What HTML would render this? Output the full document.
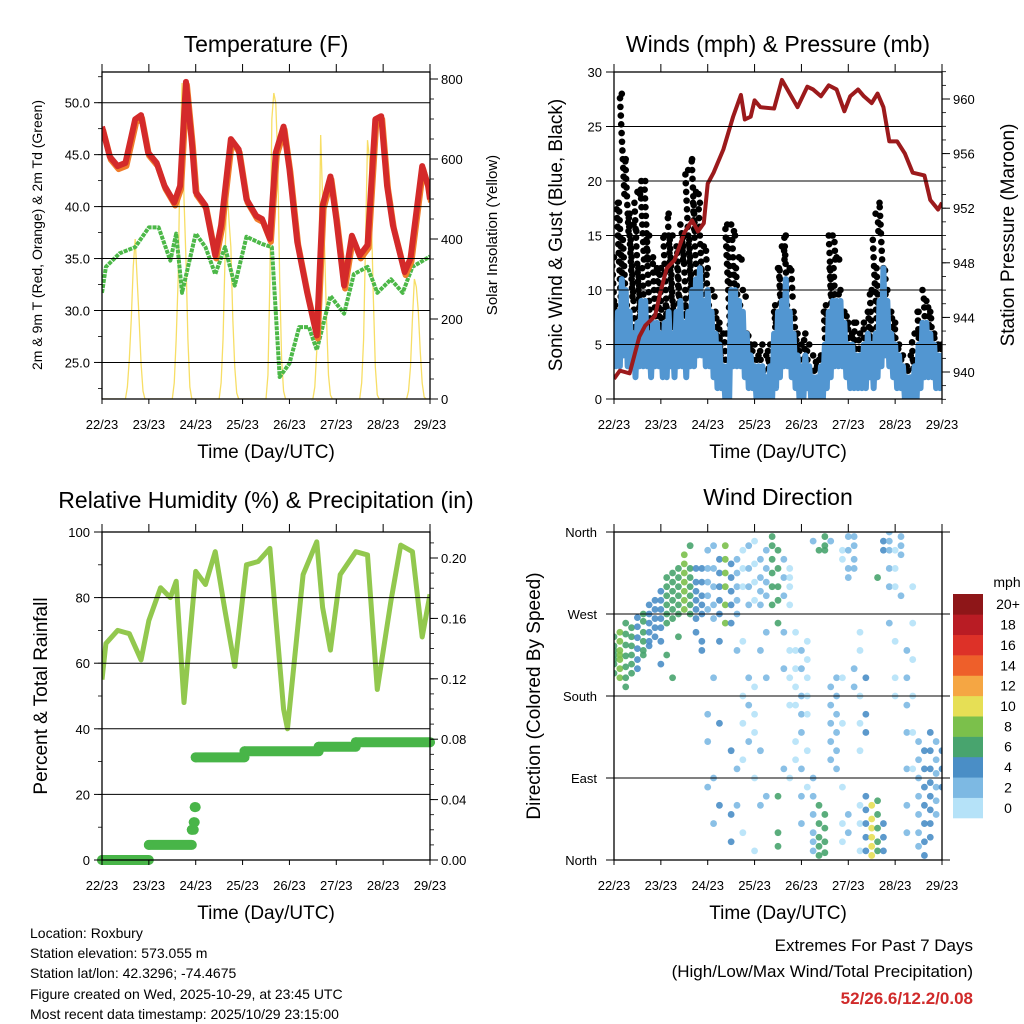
<!DOCTYPE html>
<html><head><meta charset="utf-8">
<style>
html,body{margin:0;padding:0;background:#fff;}
svg{display:block;font-family:"Liberation Sans",sans-serif;}
</style></head>
<body>
<svg id="chart" width="1024" height="1024" viewBox="0 0 1024 1024" xmlns="http://www.w3.org/2000/svg">
<rect x="0" y="0" width="1024" height="1024" fill="#fff"/>
<g id="layer-fill"></g>
<g id="layer-axes"></g>

<text x="266" y="52" font-size="23" text-anchor="middle">Temperature (F)</text>
<text x="778" y="52" font-size="23" text-anchor="middle">Winds (mph) &amp; Pressure (mb)</text>
<text x="266" y="508" font-size="23" text-anchor="middle">Relative Humidity (%) &amp; Precipitation (in)</text>
<text x="778" y="505" font-size="23" text-anchor="middle">Wind Direction</text>

<text transform="translate(42,235) rotate(-90)" font-size="14" text-anchor="middle">2m &amp; 9m T (Red, Orange) &amp; 2m Td (Green)</text>
<text transform="translate(497,235) rotate(-90)" font-size="15" text-anchor="middle">Solar Insolation (Yellow)</text>
<text transform="translate(562,235) rotate(-90)" font-size="19" text-anchor="middle">Sonic Wind &amp; Gust (Blue, Black)</text>
<text transform="translate(1014,235) rotate(-90)" font-size="19" text-anchor="middle">Station Pressure (Maroon)</text>
<text transform="translate(47,696) rotate(-90)" font-size="19" text-anchor="middle">Percent &amp; Total Rainfall</text>
<text transform="translate(540,696) rotate(-90)" font-size="19" text-anchor="middle">Direction (Colored By Speed)</text>

<text x="266" y="458" font-size="19" text-anchor="middle">Time (Day/UTC)</text>
<text x="778" y="458" font-size="19" text-anchor="middle">Time (Day/UTC)</text>
<text x="266" y="919" font-size="19" text-anchor="middle">Time (Day/UTC)</text>
<text x="778" y="919" font-size="19" text-anchor="middle">Time (Day/UTC)</text>

<g font-size="14">
<text x="30" y="938">Location: Roxbury</text>
<text x="30" y="958">Station elevation: 573.055 m</text>
<text x="30" y="978">Station lat/lon: 42.3296; -74.4675</text>
<text x="30" y="999">Figure created on Wed, 2025-10-29, at 23:45 UTC</text>
<text x="30" y="1019">Most recent data timestamp: 2025/10/29 23:15:00</text>
</g>
<g font-size="17" text-anchor="end">
<text x="973" y="951">Extremes For Past 7 Days</text>
<text x="973" y="977">(High/Low/Max Wind/Total Precipitation)</text>
<text x="973" y="1004" fill="#d02a2a" font-weight="bold">52/26.6/12.2/0.08</text>
</g>
<text x="1007" y="587" font-size="14" text-anchor="middle">mph</text>
</svg>
<script>
const NS="http://www.w3.org/2000/svg";
// ---------- DATA ----------
const dayLabels=["22/23","23/23","24/23","25/23","26/23","27/23","28/23","29/23"];
const tempTimes=[0,4,8,12,17,20,23.6,28,32,37,40,43,46,48,53,58,61,66,70,74,79,82,86,89,93,96,100,105,110,113,117,120,124,128,132,136,140,143,146,149,155,158,164,167,168];
const tempVals=[47.7,44.8,43.9,44.2,48.4,48.8,45.2,44.2,42.0,40.4,42.0,52.0,46.2,41.4,40.1,35.3,38.2,46.5,45.5,40.7,39.1,38.8,36.9,45.2,47.7,43.6,36.6,31.8,27.6,40.1,42.9,38.8,32.4,37.2,35.3,36.3,48.4,48.7,42.0,38.2,33.7,35.0,43.9,42.0,40.7];
const dewTimes=[0,2,9,17,24,29,35,38,41,48,53,58,63,68,74,82,87,91,96,101,106,110,117,124,129,136,141,148,154,159,168];
const dewVals=[31.7,34.2,35.5,36.1,38.0,38.0,34.8,37.4,31.7,37.4,36.1,33.5,36.1,32.4,37.1,36.4,36.1,23.6,24.9,28.4,28.4,26.2,31.4,29.7,33.5,34.2,31.7,33.0,31.7,34.2,35.2];
const solarVals=[
0,0,0,0,0,0,0,0,0,0,0,0,0,30,100,200,330,400,300,200,90,20,0,0,
0,0,0,0,0,0,0,0,0,0,0,0,0,40,150,300,600,790,500,350,150,30,0,0,
0,0,0,0,0,0,0,0,0,0,0,0,0,40,150,350,530,450,380,200,80,15,0,0,
0,0,0,0,0,0,0,0,0,0,0,0,0,60,300,700,765,740,600,300,100,20,0,0,
0,0,0,0,0,0,0,0,0,0,0,0,0,30,120,300,660,500,380,200,60,10,0,0,
0,0,0,0,0,0,0,0,0,0,0,0,0,40,150,400,647,600,450,250,80,10,0,0,
0,0,0,0,0,0,0,0,0,0,0,0,0,20,80,200,300,280,220,120,40,5,0,0,0];
const windMax=[6,8,11,10,8,6,7,9,9,6,7,7, 6,7,8,6,8,9,7,8,10,11,12,9, 10,8,6,5,3,3,10,10,9,8,6,4, 3,3,3,2,3,6,8,9,11,8,6,4, 3,4,3,2,2,3,5,8,9,9,9,7, 5,5,4,4,5,6,5,6,9,12,9,6, 5,4,3,2,2,3,5,7,7,6,5,4,4];
const windMin=[3,3,4,3,3,2,3,3,3,2,3,3, 2,2,3,2,3,3,2,3,3,4,4,3, 3,2,1,1,0,0,3,3,3,2,1,1, 0,0,0,0,0,1,2,3,3,2,1,0, 0,1,0,0,0,0,1,2,3,3,3,2, 1,1,1,1,1,2,1,2,3,4,3,2, 1,1,0,0,0,0,1,2,2,2,1,1,1];
const gustVals=[13,18,28,22,17,16,19,20,20,15,13,12, 12,15,17,15,14,16,15,21,22,19,18,14, 12,10,8,7,6,16,16,15,13,10,6,5, 5,4,5,4,5,8,12,14,15,12,8,6, 5,6,5,4,3,4,8,15,15,13,10,8, 7,6,7,6,7,8,10,17,18,12,10,8, 7,5,4,3,4,6,8,10,9,8,6,5,5];
const presTimes=[0,3,8,13,16,21,23.7,27,31,36,40,43,46,48,51,56,61,65,67,70,72,75,82,86,90,94,99,102,106,110,114,118,121,125,128,132,135,138,141,145,149,153,159,162,166,168];
const presVals=[939.5,940.1,939.9,942.6,943.4,944.1,945.8,947.6,948.2,950.2,951.1,950.3,950.9,953.8,954.6,956.3,958.7,960.3,958.5,958.7,959.9,959.4,959.3,961.4,960.4,959.4,960.9,960.7,960.2,961.0,960.7,959.1,960.2,960.7,960.2,959.7,960.4,959.4,956.9,956.9,956.0,954.6,954.4,952.6,951.9,952.4];
const rhTimes=[0,2,8,14,20,24,30,35,38,42,48,53,58,63,68,74,80,86,93,95,103,110,113,117,122,130,136,141,148,153,159,164,168];
const rhVals=[55,66,70,69,61,73,83,80,85,48,88,84,94,76,59,90,91,95,46,40,87,97,77,64,87,94,93,52,79,96,94,68,81];
const rainTimes=[0,24,46,47,47.5,48,73,111,130,168];
const rainVals=[0,0.01,0.02,0.025,0.035,0.068,0.072,0.075,0.078,0.078];
const dirTimes=[0,3,6,9,12,15,18,21,24,27,30,33,36,39,42,45,48,51,54,57,60,63,66,69,72,75,78,81,84,87,90,93,96,99,102,105,108,111,114,117,120,123,126,129,132,135,138,141,144,147,150,153,156,159,162,165,168];
const dirSpeeds=[7,9,7,6,5,6,5,4,5,6,7,6,8,6,5,4,3,2,4,8,4,3,1,2,1,3,2,6,6,3,1,1,2,1,2,6,7,3,2,1,3,2,1,4,10,6,4,2,1,3,2,1,3,4,4,3,4];
const dirDegs=[[205,215,225,235,245,220,230],[210,220,230,240,250,225,200],[200,212,224,236,248,260,190],[215,225,235,245,255,205],[220,232,244,256,266,210],[230,240,250,262,270,225],[240,250,260,270,280,235],[245,255,265,275,285],[255,265,275,285,295,240,215],[260,270,280,290,300,310,225],[265,275,285,295,305,315,200],[270,280,290,300,310,320,245],[275,285,295,305,315,325,335],[270,280,290,300,310,320,345],[265,275,285,295,305,320,250],[270,280,290,305,320,240,230],[275,290,305,320,340,160,130,80],[265,280,300,320,345,200,90,40],[270,285,300,315,330,240,150,60],[300,315,330,345,280,260],[280,295,310,325,260,120,50,20],[270,285,300,315,330,230,100,60],[300,320,340,240,180,150,110,30],[280,300,320,345,200,170,130],[285,305,325,350,190,160,140,90,10],[280,295,310,330,230,120,60],[290,305,320,340,250,200,70],[300,315,330,345,355,280],[285,300,320,340,260,70,30,15],[290,310,330,250,210,100],[280,300,310,320,230,200,170,90],[250,230,210,190,170,130,110],[230,210,180,160,140,100,70,40],[240,220,200,180,160,120,80],[90,70,50,30,20,10,350],[60,40,25,15,5,340],[50,35,20,8,355,345,340],[190,170,150,130,110,350],[200,180,160,140,120,100],[200,150,80,40,20,340,330],[310,320,340,355,50,30],[320,330,345,355,210,190],[250,230,180,150,120,60,40,10],[70,55,40,25,10,200,160,140],[60,45,35,25,15,5],[65,50,35,20,10,310],[40,25,10,350,340],[360,350,340,320,300,260],[340,320,300,240,200,180],[355,345,335,290],[230,200,170,140,100,60,30],[300,260,220,180,140,100],[130,110,90,70,50,30,15],[120,100,80,60,40,20,5],[140,120,100,85,70,55,40,25],[130,110,95,80,65,50],[120,100,80]];
const speedBins=["0","2","4","6","8","10","12","14","16","18","20+"];
const binColors=["#b5e2f8","#7db9e3","#4a8ec6","#48a46e","#7bc04b","#e6df55","#f5a643","#ee5f2a","#dd3128","#b91c24","#8e1618"];
const tempTicks=[25,30,35,40,45,50];
const solarTicks=[0,200,400,600,800];
const windTicks=[0,5,10,15,20,25,30];
const presTicks=[940,944,948,952,956,960];
const rhTicks=[0,20,40,60,80,100];
const rainTicks=[0,0.04,0.08,0.12,0.16,0.20];
const dirTicks=[0,90,180,270,360];
const dirTickLabels=["North","East","South","West","North"];

// ---------- SCALES ----------
const P1={x0:102,x1:430,y0:72,y1:399}, P2={x0:614,x1:942,y0:72,y1:399}, P3={x0:102,x1:430,y0:532,y1:860}, P4={x0:614,x1:942,y0:532,y1:860};
const xs=(P,h)=>P.x0+h/168*(P.x1-P.x0);
const yTemp=T=>102.7+(50-T)*10.39;
const ySolar=s=>399-s*0.4;
const yWind=v=>399-v*10.9;
const yPres=p=>99+(960-p)*13.65;
const yRH=r=>860-r*3.28;
const yRain=r=>860-r*1510;
const yDir=d=>860-d*328/360;

const fillL=document.getElementById('layer-fill');
const axL=document.getElementById('layer-axes');
function mk(tag,attrs,parent){const e=document.createElementNS(NS,tag);for(const k in attrs)e.setAttribute(k,attrs[k]);parent.appendChild(e);return e;}
function clip(id,P){const d=mk('clipPath',{id:id},fillL);mk('rect',{x:P.x0,y:P.y0,width:P.x1-P.x0,height:P.y1-P.y0},d);}
clip('c1',P1);clip('c2',P2);clip('c3',P3);clip('c4',P4);
const g1=mk('g',{'clip-path':'url(#c1)'},fillL);


const g2=mk('g',{'clip-path':'url(#c2)'},fillL);


const g3=mk('g',{'clip-path':'url(#c3)'},fillL);


const g4=mk('g',{'clip-path':'url(#c4)'},fillL);



function grid(P,vals,yf,g,name,ext){for(const v of vals){const l=mk('line',{x1:P.x0-(ext||0),x2:P.x1+(ext||0),y1:yf(v),y2:yf(v),stroke:'#000','stroke-width':1},axL);

}}
grid(P1,tempTicks,yTemp,g1,'temperature-gridline',0);
grid(P2,windTicks,yWind,g2,'wind-gridline',0);
grid(P3,rhTicks,yRH,g3,'humidity-gridline',0);
grid(P4,dirTicks,yDir,g4,'direction-gridline',8);

// ---- Panel 1 ----
let pts=solarVals.map((s,i)=>xs(P1,i)+','+ySolar(s)).join(' ');
const sol=mk('polyline',{points:pts,fill:'none',stroke:'#f6d84a','stroke-width':1.3,opacity:0.85},g1);


pts=dewVals.map((v,i)=>xs(P1,dewTimes[i])+','+yTemp(v)).join(' ');
const dew=mk('polyline',{points:pts,fill:'none',stroke:'#4cb848','stroke-width':4,'stroke-dasharray':'4 1','stroke-linejoin':'round'},g1);


pts=tempVals.map((v,i)=>xs(P1,tempTimes[i])+1+','+(yTemp(v)+3)).join(' ');
const t9=mk('polyline',{points:pts,fill:'none',stroke:'#f07c2a','stroke-width':6,'stroke-linejoin':'round'},g1);


pts=tempVals.map((v,i)=>xs(P1,tempTimes[i])+','+yTemp(v)).join(' ');
const t2=mk('polyline',{points:pts,fill:'none',stroke:'#d42a2a','stroke-width':6,'stroke-linejoin':'round'},g1);



// ---- Panel 2 ----
for(let i=0;i<gustVals.length;i++){
  const h=i*2;
  for(let v=windMax[i]-1;v<=gustVals[i];v+=0.8){
    const c=mk('circle',{cx:xs(P2,h)+((v*7)%6)-3,cy:yWind(v),r:3.3,fill:'#000'},g2);
    
    
  }
  const c=mk('circle',{cx:xs(P2,h),cy:yWind(gustVals[i]),r:3.3,fill:'#000'},g2);
  
  
}
let wp=[];
for(let i=0;i<windMax.length;i++){wp.push(xs(P2,i*2)+','+yWind(windMax[i]));wp.push(xs(P2,i*2+1)+','+yWind(windMin[i]));}
const wl=mk('polyline',{points:wp.join(' '),fill:'none',stroke:'#5296d1','stroke-width':6,'stroke-linejoin':'round'},g2);


pts=presVals.map((v,i)=>xs(P2,presTimes[i])+','+yPres(v)).join(' ');
const pl=mk('polyline',{points:pts,fill:'none',stroke:'#9c1a1c','stroke-width':4,'stroke-linejoin':'round'},g2);



// ---- Panel 3 ----
pts=rhVals.map((v,i)=>xs(P3,rhTimes[i])+','+yRH(v)).join(' ');
const rl=mk('polyline',{points:pts,fill:'none',stroke:'#92c84e','stroke-width':5,'stroke-linejoin':'round'},g3);


const rainG=mk('g',{},fillL);


for(let i=0;i<rainTimes.length-1;i++){
  const seg=mk('line',{x1:xs(P3,rainTimes[i]),x2:xs(P3,rainTimes[i+1]),y1:yRain(rainVals[i]),y2:yRain(rainVals[i]),stroke:'#48b548','stroke-width':10,'stroke-linecap':'round'},rainG);
  
  
  const c=mk('circle',{cx:xs(P3,rainTimes[i]),cy:yRain(rainVals[i]),r:5,fill:'#48b548'},rainG);
  
  
}
const rl2=mk('circle',{cx:xs(P3,168),cy:yRain(rainVals[rainVals.length-1]),r:5,fill:'#48b548'},rainG);



// ---- Panel 4 ----
function binOf(s){return Math.min(10,Math.floor(s/2));}
for(let i=0;i<dirTimes.length;i++){
  for(const d of dirDegs[i]){
    const c=mk('circle',{cx:xs(P4,dirTimes[i]),cy:yDir(d),r:3.4,fill:binColors[binOf(dirSpeeds[i])],opacity:0.9},g4);
    
    
  }
}
for(let i=0;i<speedBins.length;i++){
  const y=818-(i+1)*224/11;
  const r=mk('rect',{x:953,y:y,width:30,height:224/11+0.3,fill:binColors[i]},axL);
  
  
  const t=mk('text',{x:1008,y:y+224/22+5,'font-size':14,'text-anchor':'middle'},axL);
  t.textContent=speedBins[i];
  
  
}

// ---- Axes frames & ticks ----
function frame(P,name){
  const r=mk('rect',{x:P.x0,y:P.y0,width:P.x1-P.x0,height:P.y1-P.y0,fill:'none',stroke:'#000','stroke-width':1.3},axL);
  
  
  for(let d=0;d<8;d++){
    const x=xs(P,d*24);
    const a=mk('line',{x1:x,x2:x,y1:P.y0-8,y2:P.y0,stroke:'#000','stroke-width':1},axL);
    
    
    const b=mk('line',{x1:x,x2:x,y1:P.y1,y2:P.y1+5,stroke:'#000','stroke-width':1},axL);
    
    
    const t=mk('text',{x:x,y:P.y1+30,'font-size':13,'text-anchor':'middle'},axL);
    t.textContent=dayLabels[d];
    
    
  }
}
frame(P1,'temperature-frame');frame(P2,'winds-frame');frame(P3,'humidity-frame');frame(P4,'direction-frame');
function leftAxis(P,vals,yf,fmt,minorStep,lo,hi,name){
  for(const v of vals){
    const y=yf(v);
    const l=mk('line',{x1:P.x0-8,x2:P.x0,y1:y,y2:y,stroke:'#000'},axL);
    
    
    const t=mk('text',{x:P.x0-12,y:y+5,'font-size':13,'text-anchor':'end'},axL);
    t.textContent=fmt(v);
    
    
  }
  for(let v=lo;v<=hi+1e-9;v+=minorStep){const y=yf(v);if(y<P.y0-0.5||y>P.y1+0.5)continue;
    const l=mk('line',{x1:P.x0-4,x2:P.x0,y1:y,y2:y,stroke:'#000','stroke-width':0.8},axL);
    
    }
}
function rightAxis(P,vals,yf,fmt,minorStep,lo,hi,name){
  for(const v of vals){
    const y=yf(v);
    const l=mk('line',{x1:P.x1,x2:P.x1+8,y1:y,y2:y,stroke:'#000'},axL);
    
    
    const t=mk('text',{x:P.x1+11,y:y+5,'font-size':13,'text-anchor':'start'},axL);
    t.textContent=fmt(v);
    
    
  }
  for(let v=lo;v<=hi+1e-9;v+=minorStep){const y=yf(v);if(y<P.y0-0.5||y>P.y1+0.5)continue;
    const l=mk('line',{x1:P.x1,x2:P.x1+4,y1:y,y2:y,stroke:'#000','stroke-width':0.8},axL);
    
    }
}
leftAxis(P1,tempTicks,yTemp,v=>v.toFixed(1),2.5,20,55,'temperature-axis');
rightAxis(P1,solarTicks,ySolar,v=>String(v),50,0,800,'solar-axis');
leftAxis(P2,windTicks,yWind,v=>String(v),5,0,30,'wind-axis');
rightAxis(P2,presTicks,yPres,v=>String(v),1,937,962,'pressure-axis');
leftAxis(P3,rhTicks,yRH,v=>String(v),10,0,100,'humidity-axis');
rightAxis(P3,rainTicks,yRain,v=>v.toFixed(2),0.01,0,0.21,'rainfall-axis');
for(let i=0;i<dirTicks.length;i++){
  const y=yDir(dirTicks[i]);
  const t=mk('text',{x:P4.x0-17,y:y+5,'font-size':13,'text-anchor':'end'},axL);
  t.textContent=dirTickLabels[i];
  
  
}
</script>
</body></html>
